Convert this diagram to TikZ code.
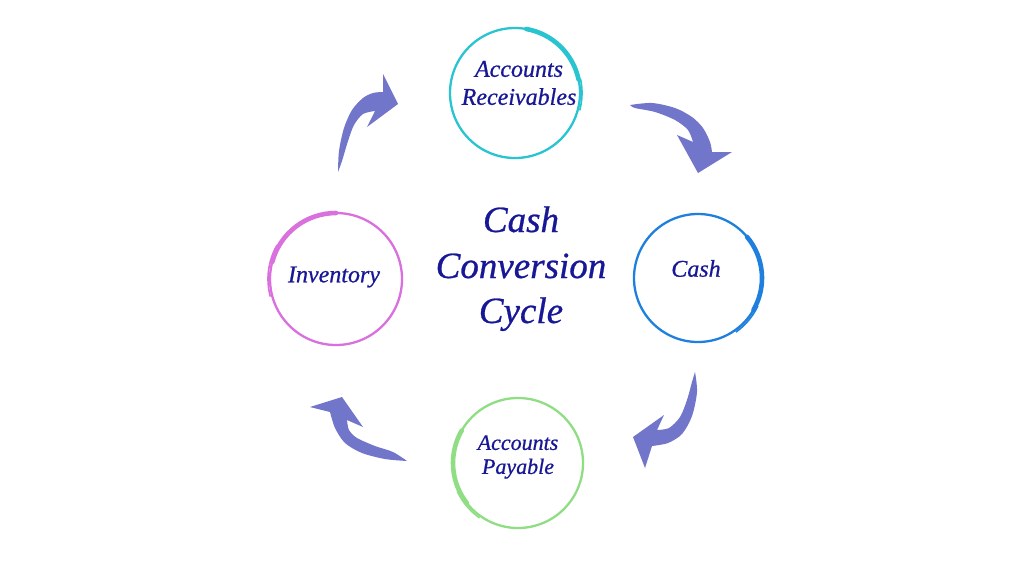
\documentclass[tikz,border=0pt]{standalone}
\usepackage{fontspec}
\setmainfont{Liberation Serif}
\newfontfamily\lblfont{Liberation Serif Italic}[FakeBold=0.7]
\definecolor{txtc}{RGB}{24,24,150}
\definecolor{arrc}{RGB}{114,118,202}
\definecolor{cyanc}{RGB}{40,196,208}
\definecolor{bluec}{RGB}{30,128,220}
\definecolor{greenc}{RGB}{144,222,132}
\definecolor{violc}{RGB}{218,112,222}
\begin{document}
\begin{tikzpicture}[x=1pt,y=-1pt,
  lbl/.style={text=txtc, align=center, inner sep=0pt, font=\fontsize{24}{28}\selectfont\lblfont},
  ttl/.style={text=txtc, inner sep=0pt, anchor=base, font=\fontsize{37}{46}\selectfont\lblfont},
  ring/.style={line width=2.3pt},
  thick ring/.style={line width=4.6pt, line cap=round},
  tail ring/.style={line width=1.6pt},
  arrowfill/.style={fill=arrc}]
\useasboundingbox (0,0) rectangle (1024,576);
\fill[white] (0,0) rectangle (1024,576);

% circle centres
\coordinate (arC) at (515,93);
\coordinate (cashC) at (698,278);
\coordinate (apC) at (518,463);
\coordinate (invC) at (336,279);

% Accounts Receivables ring
\draw[cyanc, ring] (arC) circle[radius=65];
\draw[cyanc, thick ring] ([shift={(-12:65)}]arC) arc[start angle=-12, end angle=-80, radius=65];
\draw[cyanc, tail ring] ([shift={(15:67)}]arC) arc[start angle=15, end angle=-12, radius=67];

% Cash ring
\draw[bluec, ring] (cashC) circle[radius=64];
\draw[bluec, thick ring] ([shift={(-40:64)}]cashC) arc[start angle=-40, end angle=30, radius=64];
\draw[bluec, tail ring] ([shift={(25:66)}]cashC) arc[start angle=25, end angle=55, radius=66];

% Accounts Payable ring
\draw[greenc, ring] (apC) circle[radius=65];
\draw[greenc, thick ring] ([shift={(-150:65)}]apC) arc[start angle=-150, end angle=-218, radius=65];
\draw[greenc, tail ring] ([shift={(-205:67)}]apC) arc[start angle=-205, end angle=-235, radius=67];

% Inventory ring
\draw[violc, ring] (invC) circle[radius=66];
\draw[violc, thick ring] ([shift={(-90:66)}]invC) arc[start angle=-90, end angle=-165, radius=66];
\draw[violc, tail ring] ([shift={(-150:68)}]invC) arc[start angle=-150, end angle=-195, radius=68];

% labels
\node[lbl] (ar) at (519,83) {Accounts\\Receivables};
\node[lbl] (cash) at (696,268.5) {Cash};
\node[lbl, font=\fontsize{22}{24}\selectfont\lblfont] (ap) at (518,457) {Accounts\\Payable};
\node[lbl] (inv) at (334,277) {Inventory};

% title
\node[ttl] (t1) at (521,232) {Cash};
\node[ttl] (t2) at (521,278) {Conversion};
\node[ttl] (t3) at (521,323) {Cycle};

% arrows
\fill[arrowfill] plot[smooth] coordinates {(338,172) (339,151) (344,128) (352,110) (363,98) (373,93) (383,92)}
  -- (383,74) -- (398,104) -- (367,127) -- (375,111)
  -- plot[smooth] coordinates {(375,111) (363,114) (354,125) (348,141) (342,161) (338,172)} -- cycle;

\fill[arrowfill] plot[smooth] coordinates {(630,105) (652,103) (675,108) (692,117) (703,128) (710,142) (712,152)}
  -- (732,152) -- (698,173) -- (677,135) -- (693,142)
  -- plot[smooth] coordinates {(693,142) (688,130) (675,120) (655,112) (635,108) (630,105)} -- cycle;

\fill[arrowfill] plot[smooth] coordinates {(695,372) (697,392) (692,416) (682,434) (668,443) (652,446)}
  -- (645,468) -- (633,437) -- (664,415) -- (657,430)
  -- plot[smooth] coordinates {(657,430) (669,428) (680,417) (687,400) (692,382) (695,372)} -- cycle;

\fill[arrowfill] plot[smooth] coordinates {(407,461) (385,459) (362,453) (345,443) (335,428) (330,412)}
  -- (310,407) -- (342,397) -- (363,427) -- (347,420)
  -- plot[smooth] coordinates {(347,420) (349,430) (357,438) (375,446) (393,452) (407,461)} -- cycle;
\end{tikzpicture}
\end{document}
